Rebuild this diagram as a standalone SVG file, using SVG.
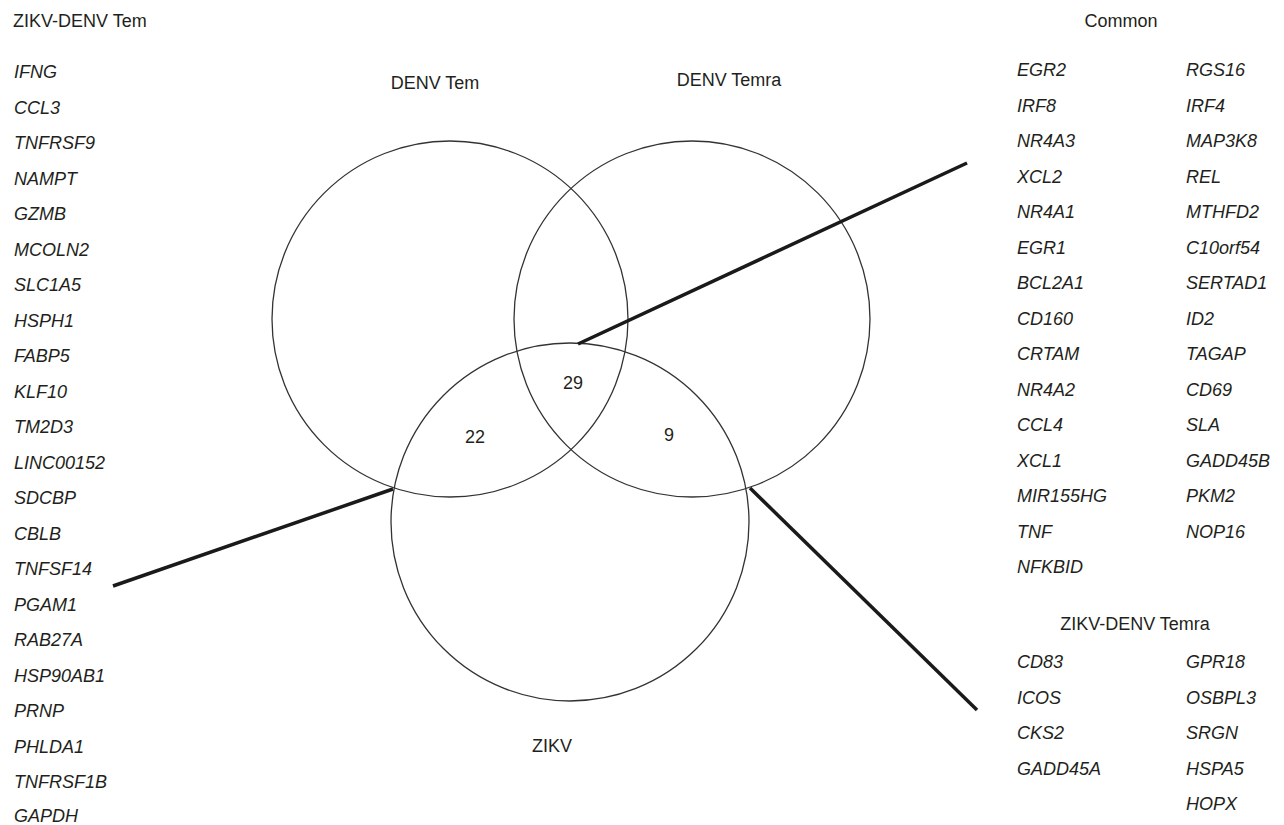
<svg xmlns="http://www.w3.org/2000/svg" width="1284" height="825" viewBox="0 0 1284 825">
<style>
text{font-family:"Liberation Sans",Arial,sans-serif;font-size:18px;fill:#231f20}
.g{font-style:italic}
.c{text-anchor:middle}
.circ{fill:none;stroke:#333;stroke-width:1.3}
.conn{stroke:#1a1a1a;stroke-width:3.5;fill:none;stroke-linecap:butt}
</style>
<rect width="1284" height="825" fill="#fff"/>
<g id="venn">
<g id="denv-tem"><circle class="circ" cx="450" cy="319" r="178"/><text class="c" x="435" y="89">DENV Tem</text></g>
<g id="denv-temra"><circle class="circ" cx="692" cy="319" r="178"/><text class="c" x="729" y="86">DENV Temra</text></g>
<g id="zikv"><circle class="circ" cx="570" cy="522" r="179"/><text class="c" x="552" y="752">ZIKV</text></g>
<g id="counts"><text class="c" x="573" y="389">29</text><text class="c" x="475" y="443">22</text><text class="c" x="669" y="441">9</text></g>
</g>
<g id="connectors">
<line class="conn" x1="578" y1="344" x2="967" y2="163"/>
<line class="conn" x1="393" y1="489" x2="113" y2="586"/>
<line class="conn" x1="750" y1="488" x2="977" y2="710"/>
</g>
<g id="zikv-denv-tem">
<text x="13" y="27">ZIKV-DENV Tem</text>
<text class="g" x="14" y="78">IFNG</text>
<text class="g" x="14" y="113.5">CCL3</text>
<text class="g" x="14" y="149">TNFRSF9</text>
<text class="g" x="14" y="184.5">NAMPT</text>
<text class="g" x="14" y="220">GZMB</text>
<text class="g" x="14" y="255.5">MCOLN2</text>
<text class="g" x="14" y="291">SLC1A5</text>
<text class="g" x="14" y="326.5">HSPH1</text>
<text class="g" x="14" y="362">FABP5</text>
<text class="g" x="14" y="397.5">KLF10</text>
<text class="g" x="14" y="433">TM2D3</text>
<text class="g" x="14" y="468.5">LINC00152</text>
<text class="g" x="14" y="504">SDCBP</text>
<text class="g" x="14" y="539.5">CBLB</text>
<text class="g" x="14" y="575">TNFSF14</text>
<text class="g" x="14" y="610.5">PGAM1</text>
<text class="g" x="14" y="646">RAB27A</text>
<text class="g" x="14" y="681.5">HSP90AB1</text>
<text class="g" x="14" y="717">PRNP</text>
<text class="g" x="14" y="752.5">PHLDA1</text>
<text class="g" x="14" y="788">TNFRSF1B</text>
<text class="g" x="14" y="822">GAPDH</text>
</g>
<g id="common">
<text class="c" x="1121" y="27">Common</text>
<text class="g" x="1017" y="76">EGR2</text>
<text class="g" x="1017" y="111.5">IRF8</text>
<text class="g" x="1017" y="147">NR4A3</text>
<text class="g" x="1017" y="182.5">XCL2</text>
<text class="g" x="1017" y="218">NR4A1</text>
<text class="g" x="1017" y="253.5">EGR1</text>
<text class="g" x="1017" y="289">BCL2A1</text>
<text class="g" x="1017" y="324.5">CD160</text>
<text class="g" x="1017" y="360">CRTAM</text>
<text class="g" x="1017" y="395.5">NR4A2</text>
<text class="g" x="1017" y="431">CCL4</text>
<text class="g" x="1017" y="466.5">XCL1</text>
<text class="g" x="1017" y="502">MIR155HG</text>
<text class="g" x="1017" y="537.5">TNF</text>
<text class="g" x="1017" y="573">NFKBID</text>
<text class="g" x="1186" y="76">RGS16</text>
<text class="g" x="1186" y="111.5">IRF4</text>
<text class="g" x="1186" y="147">MAP3K8</text>
<text class="g" x="1186" y="182.5">REL</text>
<text class="g" x="1186" y="218">MTHFD2</text>
<text class="g" x="1186" y="253.5">C10orf54</text>
<text class="g" x="1186" y="289">SERTAD1</text>
<text class="g" x="1186" y="324.5">ID2</text>
<text class="g" x="1186" y="360">TAGAP</text>
<text class="g" x="1186" y="395.5">CD69</text>
<text class="g" x="1186" y="431">SLA</text>
<text class="g" x="1186" y="466.5">GADD45B</text>
<text class="g" x="1186" y="502">PKM2</text>
<text class="g" x="1186" y="537.5">NOP16</text>
</g>
<g id="zikv-denv-temra">
<text class="c" x="1135" y="630">ZIKV-DENV Temra</text>
<text class="g" x="1017" y="668">CD83</text>
<text class="g" x="1017" y="703.5">ICOS</text>
<text class="g" x="1017" y="739">CKS2</text>
<text class="g" x="1017" y="774.5">GADD45A</text>
<text class="g" x="1186" y="668">GPR18</text>
<text class="g" x="1186" y="703.5">OSBPL3</text>
<text class="g" x="1186" y="739">SRGN</text>
<text class="g" x="1186" y="774.5">HSPA5</text>
<text class="g" x="1186" y="810">HOPX</text>
</g>
</svg>
